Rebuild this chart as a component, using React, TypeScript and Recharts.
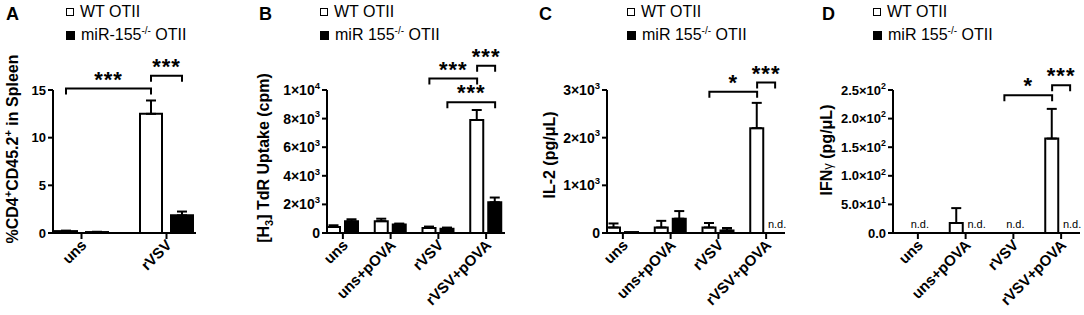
import React from "react";
import { Bar, BarChart, ErrorBar, ReferenceDot, ReferenceLine, XAxis, YAxis } from "recharts";

const FONT = "'Liberation Sans', Arial, Helvetica, sans-serif";

// categories
const groupsA = ["uns", "rVSV"];
const groupsBCD = ["uns", "uns+pOVA", "rVSV", "rVSV+pOVA"];
const seriesNames = ["WT OTII", "miR-155-/- OTII"];

// A: %CD4+CD45.2+ in spleen (mean, upper SEM)
const wtA = [0.2, 12.5];
const wtErrA = [0.05, 1.4];
const koA = [0.1, 1.85];
const koErrA = [0.03, 0.4];

// B: [H3] TdR uptake (cpm)
const wtB = [420, 830, 350, 7900];
const wtErrB = [120, 170, 100, 700];
const koB = [820, 590, 300, 2150];
const koErrB = [140, 70, 80, 330];

// C: IL-2 (pg/uL)
const wtC = [115, 115, 115, 2200];
const wtErrC = [85, 140, 95, 530];
const koC = [20, 300, 55, 0];
const koErrC = [null, 160, 50, null];
const koNdC = [false, false, false, true];

// D: IFNg (pg/uL)
const wtD = [0, 17.5, 0, 165];
const wtErrD = [null, 26, null, 52];
const koD = [0, 0, 0, 0];
const koErrD = [null, null, null, null];
const groupNdD = [true, false, true, false];
const koNdD = [false, true, false, true];

// y ticks
const ticksA = [0, 5, 10, 15];
const ticksB = [0, 2000, 4000, 6000, 8000, 10000];
const ticksC = [0, 1000, 2000, 3000];
const ticksD = [0, 50, 100, 150, 200, 250];

// significance brackets
const sigA = [
  { from: "uns", fromKey: "wt", to: "rVSV", toKey: "wt", y: 15.15, text: "***" },
  { from: "rVSV", fromKey: "wt", to: "rVSV", toKey: "ko", y: 16.5, text: "***" },
];
const sigB = [
  { from: "rVSV", fromKey: "wt", to: "rVSV+pOVA", toKey: "wt", y: 10800, text: "***" },
  { from: "rVSV+pOVA", fromKey: "wt", to: "rVSV+pOVA", toKey: "ko", y: 11700, text: "***" },
  { from: "rVSV", fromKey: "ko", to: "rVSV+pOVA", toKey: "ko", y: 9150, text: "***" },
];
const sigC = [
  { from: "rVSV", fromKey: "wt", to: "rVSV+pOVA", toKey: "wt", y: 2965, text: "*" },
  { from: "rVSV+pOVA", fromKey: "wt", to: "rVSV+pOVA", toKey: "ko", y: 3155, text: "***" },
];
const sigD = [
  { from: "rVSV", fromKey: "wt", to: "rVSV+pOVA", toKey: "wt", y: 241, text: "*" },
  { from: "rVSV+pOVA", fromKey: "wt", to: "rVSV+pOVA", toKey: "ko", y: 258.5, text: "***" },
];

type Sig = { from: string; fromKey: string; to: string; toKey: string; y: number; text: string };

const plain = (v: number) => ({ base: String(v), exp: "" });
const sci = (digits: number) => (v: number) => {
  if (v === 0) return { base: digits ? (0).toFixed(digits) : "0", exp: "" };
  const e = Math.floor(Math.log10(v) + 1e-9);
  const m = v / Math.pow(10, e);
  return { base: `${m.toFixed(digits)}×10`, exp: String(e) };
};

const YTick = ({ x, y, payload, fmt, size }: any) => {
  const { base, exp } = fmt(payload.value);
  return (
    <text x={x} y={y + size * 0.36} textAnchor="end" fontFamily={FONT} fontWeight="bold" fontSize={size} fill="#000">
      {base}
      {exp && (
        <tspan dy={-size * 0.45} fontSize={size * 0.68}>
          {exp}
        </tspan>
      )}
    </text>
  );
};

const XTick = ({ x, y, payload }: any) => (
  <g transform={`translate(${x + 6},${y + 5})`}>
    <text transform="rotate(-45)" textAnchor="end" fontFamily={FONT} fontWeight="bold" fontSize={15} fill="#000">
      {payload.value}
    </text>
  </g>
);

const bracket = (s: Sig, half: number) => (p: any) => {
  const xa = p.x1 + (s.fromKey === "wt" ? -half : half);
  const xb = p.x2 + (s.toKey === "wt" ? -half : half);
  const y = p.y1;
  return (
    <g>
      <path d={`M${xa},${y + 6}V${y}H${xb}V${y + 6}`} fill="none" stroke="#000" strokeWidth={2} />
      <text x={(xa + xb) / 2} y={y - 2} textAnchor="middle" fontFamily={FONT} fontWeight="bold" fontSize={22} letterSpacing={1} fill="#000">
        {s.text}
      </text>
    </g>
  );
};

const ndShape = (dx: number) => (p: any) => (
  <text x={p.cx + dx + 2} y={p.cy - 5} textAnchor="middle" fontFamily={FONT} fontSize={11} fill="#000">
    n.d.
  </text>
);

type PanelProps = {
  left: number;
  width: number;
  letter: string;
  letterX: number;
  legendX: number;
  koName: React.ReactNode;
  groups: string[];
  wt: number[];
  wtErr: (number | null)[];
  ko: number[];
  koErr: (number | null)[];
  koNd?: boolean[];
  groupNd?: boolean[];
  ticks: number[];
  fmt: (v: number) => { base: string; exp: string };
  tickSize: number;
  yAxisWidth: number;
  marginLeft: number;
  marginRight: number;
  padL: number;
  padR: number;
  barSize: number;
  barGap: number;
  errW: number;
  sig: Sig[];
  yLabel: React.ReactNode;
  labelX: number;
  labelY: number;
};

function Panel(pp: PanelProps) {
  const rows = pp.groups.map((g, i) => ({
    g,
    wt: pp.wt[i],
    wtErr: pp.wtErr[i] == null ? null : [0, pp.wtErr[i]],
    ko: pp.ko[i],
    koErr: pp.koErr[i] == null ? null : [0, pp.koErr[i]],
  }));
  const half = (pp.barSize + pp.barGap) / 2;
  const top = pp.ticks[pp.ticks.length - 1];
  const ndMarks: { g: string; dx: number }[] = [];
  pp.groups.forEach((g, i) => {
    if (pp.groupNd && pp.groupNd[i]) ndMarks.push({ g, dx: 0 });
    if (pp.koNd && pp.koNd[i]) ndMarks.push({ g, dx: half });
  });
  return (
    <div style={{ position: "absolute", left: pp.left, top: 0, width: pp.width, height: 315 }}>
      <div
        style={{ position: "absolute", left: pp.letterX, top: 5, fontFamily: FONT, fontWeight: "bold", fontSize: 18, lineHeight: "18px" }}
      >
        {pp.letter}
      </div>
      <div style={{ position: "absolute", left: pp.legendX, top: 2, fontFamily: FONT, fontSize: 16, zIndex: 2 }}>
        <div style={{ display: "flex", alignItems: "center", height: 20, whiteSpace: "nowrap" }}>
          <span style={{ width: 6, height: 6, border: "1.5px solid #000", marginRight: 6, background: "#fff" }} />
          {seriesNames[0]}
        </div>
        <div style={{ display: "flex", alignItems: "center", height: 20, marginTop: 3, whiteSpace: "nowrap" }}>
          <span style={{ width: 9, height: 9, background: "#000", marginRight: 6 }} />
          {pp.koName}
        </div>
      </div>
      <BarChart
        width={pp.width}
        height={315}
        data={rows}
        barSize={pp.barSize}
        barGap={pp.barGap}
        margin={{ top: 90, right: pp.marginRight, bottom: 22, left: pp.marginLeft }}
      >
        <XAxis
          dataKey="g"
          interval={0}
          height={60}
          padding={{ left: pp.padL, right: pp.padR }}
          axisLine={{ stroke: "#000", strokeWidth: 2 }}
          tickLine={{ stroke: "#000", strokeWidth: 2 }}
          tickSize={6}
          tick={<XTick />}
        />
        <YAxis
          domain={[0, top]}
          ticks={pp.ticks}
          width={pp.yAxisWidth}
          interval={0}
          axisLine={{ stroke: "#000", strokeWidth: 2 }}
          tickLine={{ stroke: "#000", strokeWidth: 2 }}
          tickSize={5}
          tick={<YTick fmt={pp.fmt} size={pp.tickSize} />}
          label={() => (
            <text
              transform={`translate(${pp.labelX},${pp.labelY}) rotate(-90)`}
              textAnchor="middle"
              fontFamily={FONT}
              fontWeight="bold"
              fontSize={16}
              fill="#000"
            >
              {pp.yLabel}
            </text>
          )}
        />
        <Bar dataKey="wt" name={seriesNames[0]} fill="#fff" stroke="#000" strokeWidth={2} isAnimationActive={false}>
          <ErrorBar dataKey="wtErr" direction="y" width={pp.errW} stroke="#000" strokeWidth={2} isAnimationActive={false} />
        </Bar>
        <Bar dataKey="ko" name={seriesNames[1]} fill="#000" stroke="#000" strokeWidth={2} isAnimationActive={false}>
          <ErrorBar dataKey="koErr" direction="y" width={pp.errW} stroke="#000" strokeWidth={2} isAnimationActive={false} />
        </Bar>
        {ndMarks.map((m, i) => (
          <ReferenceDot key={`nd-${i}`} x={m.g} y={0} r={1} shape={ndShape(m.dx)} />
        ))}
        {pp.sig.map((s, i) => (
          <ReferenceLine
            key={`sig-${i}`}
            segment={[
              { x: s.from, y: s.y },
              { x: s.to, y: s.y },
            ]}
            ifOverflow="visible"
            shape={bracket(s, half)}
          />
        ))}
      </BarChart>
    </div>
  );
}

const koNameA = (
  <span>
    miR-155<sup style={{ fontSize: 10 }}>-/-</sup> OTII
  </span>
);
const koNameBCD = (
  <span>
    miR 155<sup style={{ fontSize: 10 }}>-/-</sup> OTII
  </span>
);

export default function App() {
  return (
    <div style={{ position: "absolute", left: 0, top: 0, width: 1084, height: 315, background: "#fff", overflow: "hidden" }}>
      <Panel
        left={0}
        width={205}
        letter="A"
        letterX={6}
        legendX={66}
        koName={koNameA}
        groups={groupsA}
        wt={wtA}
        wtErr={wtErrA}
        ko={koA}
        koErr={koErrA}
        ticks={ticksA}
        fmt={plain}
        tickSize={13}
        yAxisWidth={45}
        marginLeft={8}
        marginRight={9}
        padL={-14}
        padR={-13}
        barSize={22}
        barGap={9}
        errW={5}
        sig={sigA}
        labelX={18}
        labelY={149}
        yLabel={
          <>
            %CD4<tspan dy={-6} fontSize={11}>+</tspan>
            <tspan dy={6}>CD45.2</tspan>
            <tspan dy={-6} fontSize={11}>+</tspan>
            <tspan dy={6}>{" in Spleen"}</tspan>
          </>
        }
      />
      <Panel
        left={255}
        width={255}
        letter="B"
        letterX={4}
        legendX={65}
        koName={koNameBCD}
        groups={groupsBCD}
        wt={wtB}
        wtErr={wtErrB}
        ko={koB}
        koErr={koErrB}
        ticks={ticksB}
        fmt={sci(0)}
        tickSize={14}
        yAxisWidth={50}
        marginLeft={22}
        marginRight={5}
        padL={-8}
        padR={-5}
        barSize={13}
        barGap={5}
        errW={5}
        sig={sigB}
        labelX={14}
        labelY={158}
        yLabel={
          <>
            [H<tspan dy={4} fontSize={11}>3</tspan>
            <tspan dy={-4}>{"] TdR Uptake (cpm)"}</tspan>
          </>
        }
      />
      <Panel
        left={535}
        width={255}
        letter="C"
        letterX={4}
        legendX={92}
        koName={koNameBCD}
        groups={groupsBCD}
        wt={wtC}
        wtErr={wtErrC}
        ko={koC}
        koErr={koErrC}
        koNd={koNdC}
        ticks={ticksC}
        fmt={sci(0)}
        tickSize={14}
        yAxisWidth={50}
        marginLeft={22}
        marginRight={5}
        padL={-8}
        padR={-5}
        barSize={13}
        barGap={5}
        errW={5}
        sig={sigC}
        labelX={20}
        labelY={155}
        yLabel="IL-2 (pg/μL)"
      />
      <Panel
        left={810}
        width={274}
        letter="D"
        letterX={12}
        legendX={63}
        koName={koNameBCD}
        groups={groupsBCD}
        wt={wtD}
        wtErr={wtErrD}
        ko={koD}
        koErr={koErrD}
        koNd={koNdD}
        groupNd={groupNdD}
        ticks={ticksD}
        fmt={sci(1)}
        tickSize={13}
        yAxisWidth={60}
        marginLeft={23}
        marginRight={4}
        padL={1}
        padR={-5}
        barSize={13}
        barGap={5}
        errW={5}
        sig={sigD}
        labelX={22}
        labelY={150}
        yLabel={
          <>
            IFN<tspan fontWeight="normal" fontSize={13}>γ</tspan>
            {" (pg/μL)"}
          </>
        }
      />
    </div>
  );
}
